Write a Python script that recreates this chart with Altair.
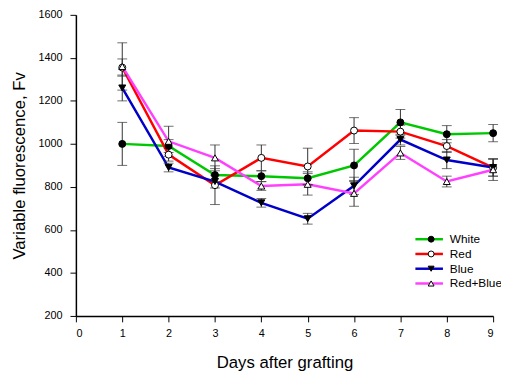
import altair as alt
import pandas as pd

days = [1, 2, 3, 4, 5, 6, 7, 8, 9]
series_names = ["White", "Red", "Blue", "Red+Blue"]
series_keys = ["w", "r", "b", "rb"]
line_colors = ["#00c800", "#ff0000", "#0000c8", "#ff40ff"]
marker_shapes = ["circle", "circle", "triangle-down", "triangle-up"]
marker_fills = ["black", "white", "black", "white"]
marker_strokes = ["black", "black", "black", "black"]

white = [1000, 990, 855, 850, 840, 900, 1100, 1045, 1050]
white_err = [100, 30, 30, 25, 30, 75, 60, 40, 40]
red = [1355, 950, 808, 935, 895, 1062, 1057, 990, 890]
red_err = [40, 30, 90, 60, 85, 60, 30, 30, 40]
blue = [1260, 890, 825, 726, 652, 805, 1020, 925, 890]
blue_err = [60, 20, 30, 20, 25, 40, 25, 40, 40]
redblue = [1360, 1012, 935, 804, 812, 770, 958, 825, 880]
redblue_err = [110, 70, 60, 20, 50, 60, 30, 25, 50]

x_ticks = [0, 1, 2, 3, 4, 5, 6, 7, 8, 9]
y_ticks = [200, 400, 600, 800, 1000, 1200, 1400, 1600]

rows = []
for name, key, vals, errs in zip(series_names, series_keys,
                                 [white, red, blue, redblue],
                                 [white_err, red_err, blue_err, redblue_err]):
    for d, v, e in zip(days, vals, errs):
        rows.append(dict(day=d, value=v, lo=v - e, hi=v + e, series=name, key=key))
df = pd.DataFrame(rows)

font = "Liberation Sans"

x_enc = alt.X("day:Q", scale=alt.Scale(domain=[0, 9], nice=False),
              axis=alt.Axis(values=x_ticks, title="Days after grafting", grid=False,
                            tickSize=6, labelPadding=6, titlePadding=16,
                            labelFontSize=11, titleFontSize=17, labelFont=font, titleFont=font,
                            titleFontWeight="normal", domainColor="black", domainWidth=1.5,
                            tickColor="black", labelColor="black", titleColor="black"))
y_scale = alt.Scale(domain=[200, 1600], nice=False)
y_enc = alt.Y("value:Q", scale=y_scale,
              axis=alt.Axis(values=y_ticks, format="d", title="Variable fluorescence, Fv",
                            grid=False, tickSize=6, labelPadding=8, titlePadding=10,
                            labelFontSize=11, titleFontSize=17, labelFont=font, titleFont=font,
                            titleFontWeight="normal", domainColor="black", domainWidth=1.5,
                            tickColor="black", labelColor="black", titleColor="black"))

base = alt.Chart(df)

lines = base.mark_line(strokeWidth=2.5).encode(
    x=x_enc, y=y_enc,
    color=alt.Color("series:N", scale=alt.Scale(domain=series_names, range=line_colors),
                    legend=alt.Legend(title=None, orient="none", legendX=353, legendY=222,
                                      symbolType="M-3.5,0H3.5", symbolSize=64,
                                      symbolStrokeWidth=2.5, labelOffset=15,
                                      labelFontSize=12, labelFont=font, labelColor="black",
                                      rowPadding=3, padding=0)),
    order="day:Q",
)

err_rule = base.mark_rule(color="#303030", strokeWidth=1).encode(
    x="day:Q", y=alt.Y("lo:Q", scale=y_scale), y2="hi:Q")
cap_lo = base.mark_tick(orient="horizontal", size=10, thickness=1, color="#303030").encode(
    x="day:Q", y=alt.Y("lo:Q", scale=y_scale))
cap_hi = base.mark_tick(orient="horizontal", size=10, thickness=1, color="#303030").encode(
    x="day:Q", y=alt.Y("hi:Q", scale=y_scale))

shape_legend = alt.Legend(title=None, orient="none", legendX=355, legendY=222,
                          symbolSize=36, symbolStrokeWidth=1, symbolOpacity=1,
                          labelExpr="''", labelFontSize=12, labelFont=font,
                          rowPadding=3, padding=0)
points = base.mark_point(filled=True, size=50, strokeWidth=1, opacity=1).encode(
    x="day:Q", y=alt.Y("value:Q", scale=y_scale),
    shape=alt.Shape("key:N", scale=alt.Scale(domain=series_keys, range=marker_shapes),
                    legend=shape_legend),
    fill=alt.Fill("key:N", scale=alt.Scale(domain=series_keys, range=marker_fills),
                  legend=shape_legend),
    stroke=alt.Stroke("key:N", scale=alt.Scale(domain=series_keys, range=marker_strokes),
                      legend=shape_legend),
)

chart = alt.layer(lines, err_rule, cap_lo, cap_hi, points).properties(
    width=424, height=306,
    autosize=alt.AutoSizeParams(type="none"),
    padding={"left": 69, "top": 4, "right": 8, "bottom": 54},
).configure_view(stroke=None)

chart.save("out.html", embed_options={"renderer": "svg", "actions": False})
